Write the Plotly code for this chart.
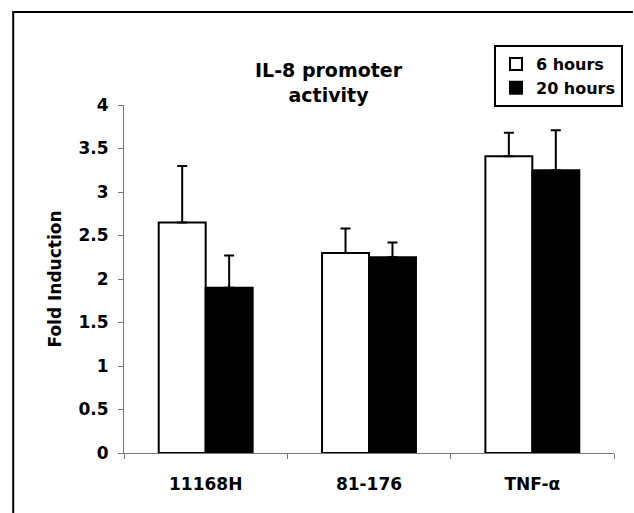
import plotly.graph_objects as go

categories = ["11168H", "81-176", "TNF-α"]
hours6 = [2.65, 2.30, 3.41]
hours6_err = [0.65, 0.28, 0.27]
hours20 = [1.90, 2.25, 3.25]
hours20_err = [0.37, 0.17, 0.46]
series_names = ["6 hours", "20 hours"]
y_ticks = [0, 0.5, 1, 1.5, 2, 2.5, 3, 3.5, 4]

W, H = 634, 513
L, R, T, B = 124, 19, 105, 60
pw, ph = W - L - R, H - T - B

def px_to_paper_x(px):
    return (px - L) / pw

def px_to_paper_y(py):
    return (H - B - py) / ph

FONT = "DejaVu Sans"

fig = go.Figure()
fig.add_trace(go.Bar(
    x=categories, y=hours6, name=series_names[0], legendgroup="a",
    marker=dict(color="white", line=dict(color="black", width=2)),
    error_y=dict(type="data", symmetric=False, array=hours6_err,
                 arrayminus=[0] * len(hours6), color="black", thickness=2, width=5),
))
fig.add_trace(go.Bar(
    x=categories, y=hours20, name=series_names[1], legendgroup="b",
    marker=dict(color="black", line=dict(color="black", width=2)),
    error_y=dict(type="data", symmetric=False, array=hours20_err,
                 arrayminus=[0] * len(hours20), color="black", thickness=2, width=5),
))

fig.update_layout(
    width=W, height=H,
    margin=dict(l=L, r=R, t=T, b=B, pad=0),
    paper_bgcolor="white", plot_bgcolor="white",
    barmode="group", bargap=0.425, bargroupgap=0,
    font=dict(family=FONT, color="black", size=17, weight="bold"),
    showlegend=True,
    legend=dict(
        x=px_to_paper_x(623), y=px_to_paper_y(45), xanchor="right", yanchor="top",
        bordercolor="black", borderwidth=2, bgcolor="white",
        font=dict(family=FONT, size=16, color="black", weight="bold"),
        itemwidth=30, tracegroupgap=0,
    ),
    annotations=[dict(
        text="IL-8 promoter<br>activity", showarrow=False,
        xref="paper", yref="paper", x=px_to_paper_x(329), y=px_to_paper_y(83),
        xanchor="center", yanchor="middle",
        font=dict(family=FONT, size=19, color="black", weight="bold"),
    )],
    shapes=[
        dict(type="line", xref="paper", yref="paper",
             x0=px_to_paper_x(13), x1=px_to_paper_x(13),
             y0=px_to_paper_y(12), y1=px_to_paper_y(513),
             line=dict(color="black", width=2)),
        dict(type="line", xref="paper", yref="paper",
             x0=px_to_paper_x(12), x1=px_to_paper_x(634),
             y0=px_to_paper_y(12), y1=px_to_paper_y(12),
             line=dict(color="black", width=2)),
    ],
)

fig.update_xaxes(
    showline=True, linecolor="#777", linewidth=1,
    ticks="outside", tickson="boundaries", ticklen=5, tickcolor="#777",
    tickfont=dict(family=FONT, size=17, color="black", weight="bold"),
    ticklabelstandoff=16,
    showgrid=False, zeroline=False,
)
fig.update_yaxes(
    range=[0, 4], tickvals=y_ticks, ticktext=[f"{v:g}" for v in y_ticks],
    showline=True, linecolor="#777", linewidth=1,
    ticks="outside", ticklen=5, tickcolor="#777",
    tickfont=dict(family=FONT, size=17, color="black", weight="bold"),
    ticklabelstandoff=6,
    showgrid=False, zeroline=False,
    title=dict(text="Fold Induction", font=dict(family=FONT, size=17, color="black", weight="bold"), standoff=12),
)

fig.write_html("out.html")
